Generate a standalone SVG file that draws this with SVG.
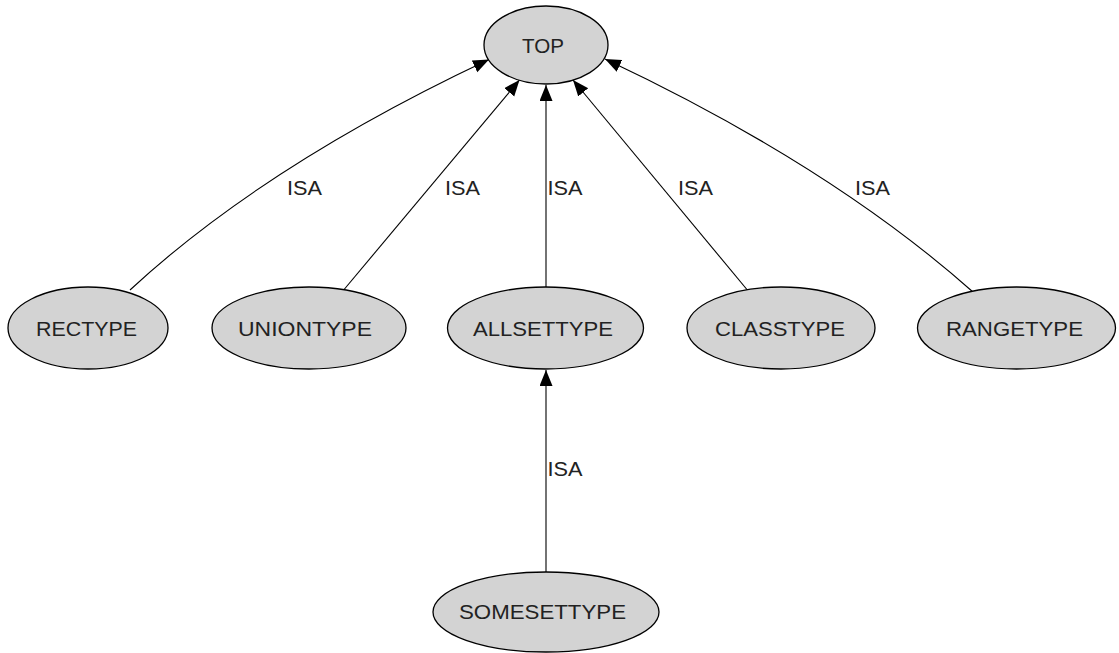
<svg xmlns="http://www.w3.org/2000/svg" width="1119" height="653" viewBox="0 0 1119 653">
<style>
.n ellipse{fill:#d3d3d3;stroke:#000;stroke-width:1.3}
.n text,.lbl{font-family:"Liberation Sans",Arial,sans-serif;font-size:20px;fill:#222;text-anchor:middle}
.e{fill:none;stroke:#000;stroke-width:1.1;marker-end:url(#ah)}
</style>
<defs>
<marker id="ah" markerUnits="userSpaceOnUse" markerWidth="18" markerHeight="14" refX="16" refY="6.5" orient="auto">
<path d="M0,0 L16,6.5 L0,13 z" fill="#000"/>
</marker>
</defs>
<rect width="1119" height="653" fill="#fff"/>
<g id="edges">
<path class="e" d="M130,290 Q265,165 489,59.5"/>
<path class="e" d="M342,292 L519.5,80"/>
<path class="e" d="M546,288 L546,85"/>
<path class="e" d="M749,292 L573,80"/>
<path class="e" d="M973,292 Q830,165 605,59"/>
<path class="e" d="M546,572 L546,370"/>
<text class="lbl" x="304.5" y="195" textLength="35" lengthAdjust="spacingAndGlyphs">ISA</text>
<text class="lbl" x="462.5" y="195" textLength="35" lengthAdjust="spacingAndGlyphs">ISA</text>
<text class="lbl" x="565" y="195" textLength="35" lengthAdjust="spacingAndGlyphs">ISA</text>
<text class="lbl" x="695.5" y="195" textLength="35" lengthAdjust="spacingAndGlyphs">ISA</text>
<text class="lbl" x="872.5" y="195" textLength="35" lengthAdjust="spacingAndGlyphs">ISA</text>
<text class="lbl" x="565" y="476" textLength="35" lengthAdjust="spacingAndGlyphs">ISA</text>
</g>
<g id="TOP" class="n"><ellipse cx="546" cy="45" rx="62" ry="39"/><text x="543" y="53" textLength="42" lengthAdjust="spacingAndGlyphs">TOP</text></g>
<g id="RECTYPE" class="n"><ellipse cx="88" cy="328" rx="80" ry="41"/><text x="86.5" y="336" textLength="101" lengthAdjust="spacingAndGlyphs">RECTYPE</text></g>
<g id="UNIONTYPE" class="n"><ellipse cx="309" cy="328" rx="97" ry="41"/><text x="305" y="336" textLength="134" lengthAdjust="spacingAndGlyphs">UNIONTYPE</text></g>
<g id="ALLSETTYPE" class="n"><ellipse cx="545.5" cy="328" rx="98" ry="41"/><text x="543" y="336" textLength="140" lengthAdjust="spacingAndGlyphs">ALLSETTYPE</text></g>
<g id="CLASSTYPE" class="n"><ellipse cx="781" cy="328" rx="94" ry="41"/><text x="780" y="336" textLength="130" lengthAdjust="spacingAndGlyphs">CLASSTYPE</text></g>
<g id="RANGETYPE" class="n"><ellipse cx="1016.5" cy="328" rx="99" ry="41"/><text x="1014.5" y="336" textLength="137" lengthAdjust="spacingAndGlyphs">RANGETYPE</text></g>
<g id="SOMESETTYPE" class="n"><ellipse cx="546" cy="612" rx="113" ry="40"/><text x="542.5" y="619" textLength="167" lengthAdjust="spacingAndGlyphs">SOMESETTYPE</text></g>
</svg>
